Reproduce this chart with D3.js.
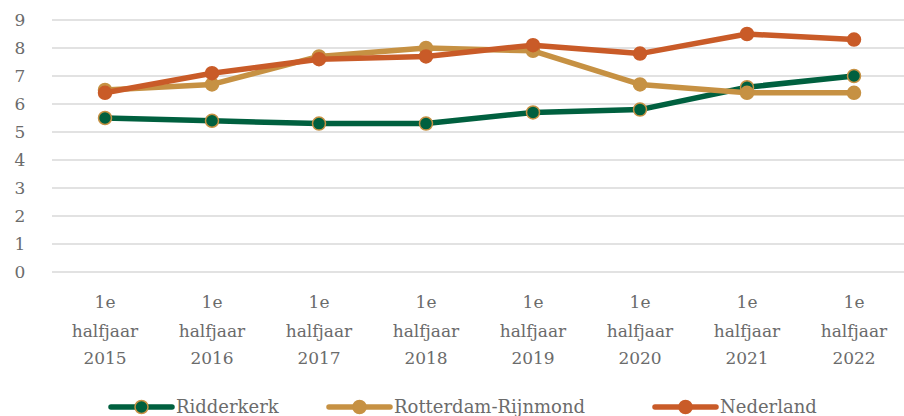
<!DOCTYPE html>
<html>
<head>
<meta charset="utf-8">
<script src="https://cdn.jsdelivr.net/npm/d3@7"></script>
<style>
  body { margin: 0; background: #fff; }
  svg { display: block; }
  text { font-family: 'DejaVu Serif', 'Liberation Serif', serif; fill: #6b6b6b; }
</style>
</head>
<body>
<div id="chart"></div>
<script>
var w = 904
var h = 416

var years = ['2015', '2016', '2017', '2018', '2019', '2020', '2021', '2022']
var ridderkerk = [5.5, 5.4, 5.3, 5.3, 5.7, 5.8, 6.6, 7.0]
var rotterdam = [6.5, 6.7, 7.7, 8.0, 7.9, 6.7, 6.4, 6.4]
var nederland = [6.4, 7.1, 7.6, 7.7, 8.1, 7.8, 8.5, 8.3]
var yTicks = [0, 1, 2, 3, 4, 5, 6, 7, 8, 9]

var series = [
  { name: 'Ridderkerk', values: ridderkerk, color: '#00603f', marker: '#00603f', edge: '#c69143' },
  { name: 'Rotterdam-Rijnmond', values: rotterdam, color: '#c69143', marker: '#c69143', edge: '#c69143' },
  { name: 'Nederland', values: nederland, color: '#c95b28', marker: '#c95b28', edge: '#c95b28' }
]

var svg = d3.select('#chart')
  .append('svg')
  .attr('width', w)
  .attr('height', h)

var x = d3.scaleBand().domain(years).range([51.5, 907.5])
var y = d3.scaleLinear().domain([0, 9]).range([272, 20])

// gridlines
svg.append('g')
  .selectAll('line')
  .data(yTicks)
  .enter()
  .append('line')
  .attr('x1', 52)
  .attr('x2', w)
  .attr('y1', function (d) { return y(d) })
  .attr('y2', function (d) { return y(d) })
  .attr('stroke', '#d9d9d9')
  .attr('stroke-width', 1.5)

// y axis labels
svg.append('g')
  .selectAll('text')
  .data(yTicks)
  .enter()
  .append('text')
  .attr('x', 20)
  .attr('y', function (d) { return y(d) + 6 })
  .attr('text-anchor', 'middle')
  .style('font-size', '17px')
  .text(function (d) { return d })

// x axis labels, three lines each
var xl = svg.append('g')
  .selectAll('text')
  .data(years)
  .enter()
  .append('text')
  .attr('text-anchor', 'middle')
  .style('font-size', '17px')
  .attr('transform', function (d) { return 'translate(' + (x(d) + x.bandwidth() / 2) + ',0)' })
xl.append('tspan').attr('x', 0).attr('y', 308).text('1e')
xl.append('tspan').attr('x', 0).attr('y', 337).text('halfjaar')
xl.append('tspan').attr('x', 0).attr('y', 364).text(function (d) { return d })

var cx = function (d, i) { return x(years[i]) + x.bandwidth() / 2 }
var line = d3.line()
  .x(function (d, i) { return cx(d, i) })
  .y(function (d) { return y(d) })

series.forEach(function (s) {
  var g = svg.append('g')
  g.append('path')
    .attr('d', line(s.values))
    .attr('fill', 'none')
    .attr('stroke', s.color)
    .attr('stroke-width', 5.5)
    .attr('stroke-linejoin', 'round')
  g.selectAll('circle')
    .data(s.values)
    .enter()
    .append('circle')
    .attr('cx', cx)
    .attr('cy', function (d) { return y(d) })
    .attr('r', 6.5)
    .attr('fill', s.marker)
    .attr('stroke', s.edge)
    .attr('stroke-width', 1.5)
})

// legend
var legendX = [111, 329, 655]
var lg = svg.append('g')
  .selectAll('g')
  .data(series)
  .enter()
  .append('g')
  .attr('transform', function (d, i) { return 'translate(' + legendX[i] + ',407)' })
lg.append('line')
  .attr('x1', 0).attr('x2', 61)
  .attr('stroke', function (d) { return d.color })
  .attr('stroke-width', 5.5)
  .attr('stroke-linecap', 'round')
lg.append('circle')
  .attr('cx', 30.5)
  .attr('r', 6.5)
  .attr('fill', function (d) { return d.marker })
  .attr('stroke', function (d) { return d.edge })
  .attr('stroke-width', 1.5)
lg.append('text')
  .attr('x', 65)
  .attr('y', 6)
  .style('font-size', '18px')
  .text(function (d) { return d.name })
</script>
</body>
</html>
